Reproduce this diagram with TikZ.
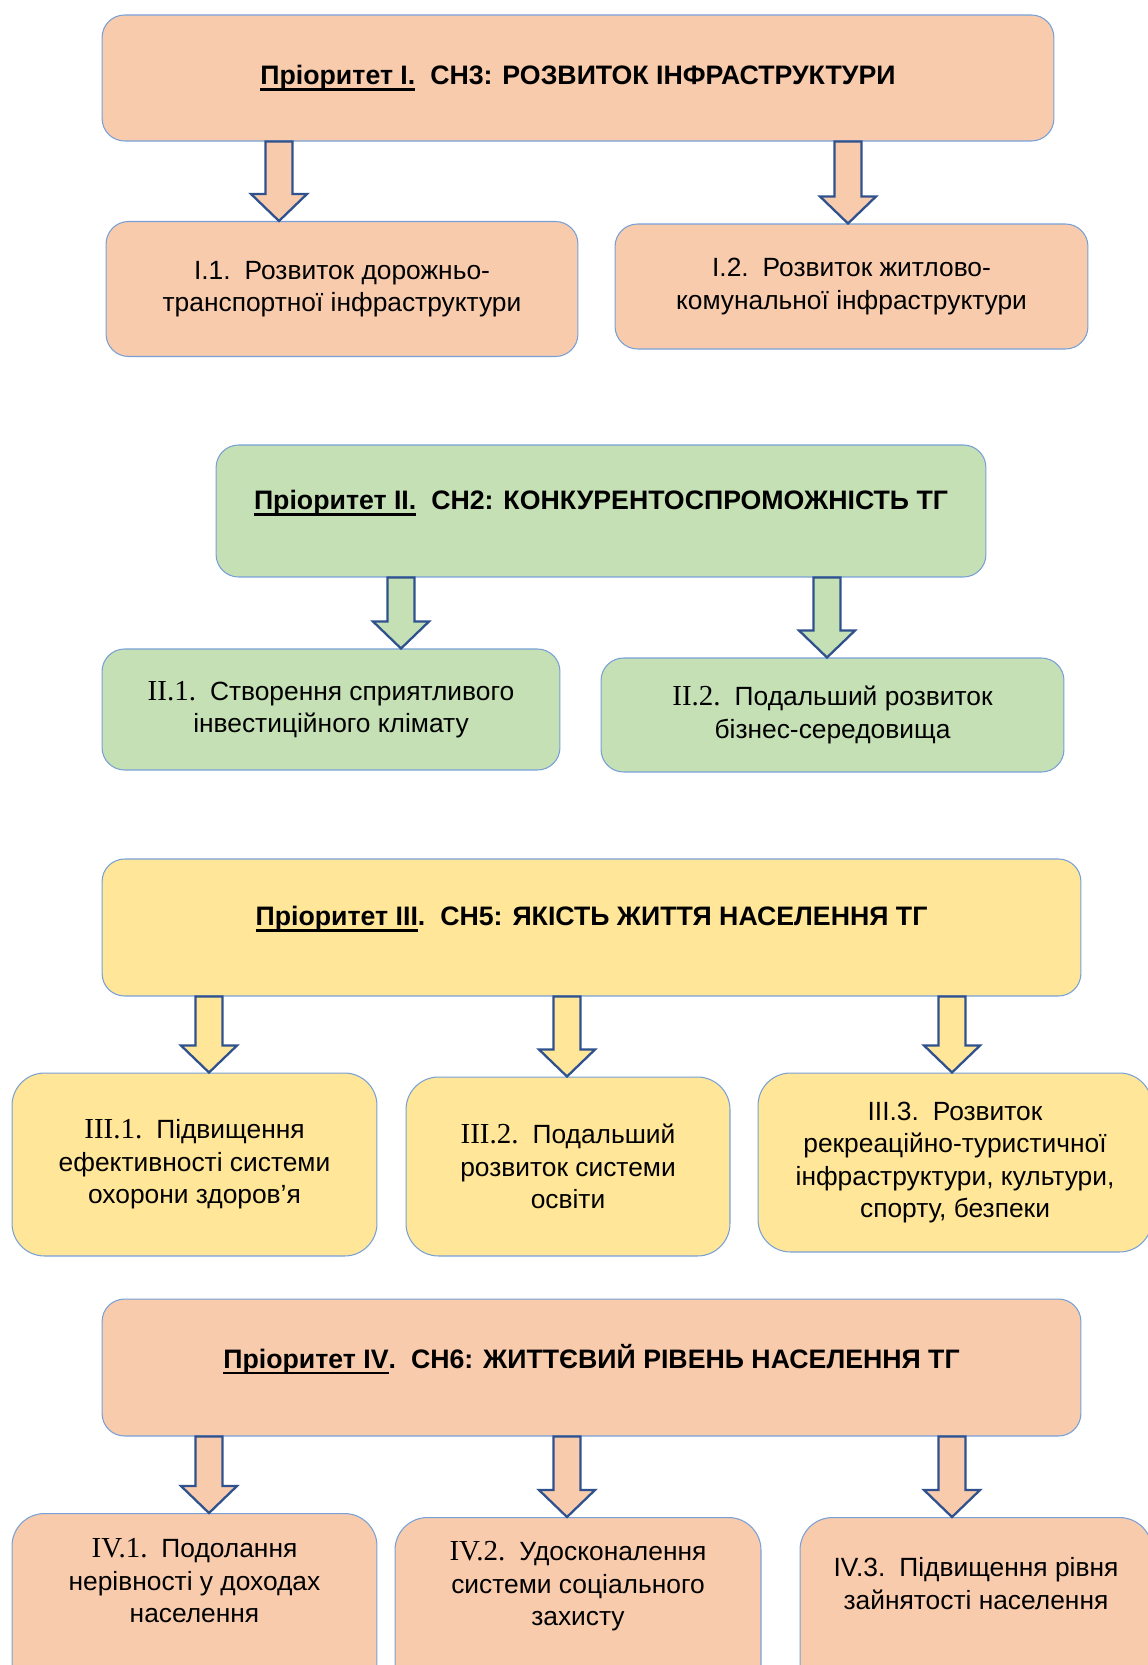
\documentclass[tikz,border=0pt]{standalone}
\usepackage{fontspec}
\setmainfont{Liberation Sans}
\newfontfamily\romfont{Liberation Serif}
\usetikzlibrary{calc}
\definecolor{peach}{RGB}{248,203,173}
\definecolor{sage}{RGB}{197,224,180}
\definecolor{sand}{RGB}{255,230,153}
\definecolor{edge}{RGB}{120,160,215}
\definecolor{navy}{RGB}{47,82,143}
\newsavebox{\undlbox}
\newcommand{\undl}[1]{\sbox{\undlbox}{#1}\rlap{\rule[-3.6pt]{\wd\undlbox}{1.5pt}}\usebox{\undlbox}}
\newcommand{\rn}[1]{{\romfont\fontsize{16.5}{18.5}\selectfont #1}}
\newcommand{\gap}{\hspace{0.28cm}}
\newcommand{\deep}{\rule[-4cm]{0pt}{0pt}}
\tikzset{
  prio/.style={rectangle, rounded corners=0.45cm, draw=edge, line width=0.6pt,
               align=center, font=\fontsize{15.2}{18}\selectfont\bfseries},
  task/.style={rectangle, rounded corners=0.45cm, draw=edge, line width=0.6pt,
               align=center, font=\fontsize{15}{18.5}\selectfont},
  tall/.style={task, rounded corners=0.65cm},
  fatarrow/.style={draw=navy, line width=1.3pt, line join=miter,
    to path={let \p1=(\tikztostart), \p2=(\tikztotarget) in
      (\x1-0.27cm,\y1) -- (\x1+0.27cm,\y1) -- (\x1+0.27cm,\y2+0.54cm)
      -- (\x1+0.56cm,\y2+0.54cm) -- (\x1,\y2) -- (\x1-0.56cm,\y2+0.54cm)
      -- (\x1-0.27cm,\y2+0.54cm) -- cycle}},
}

\begin{document}
\begin{tikzpicture}[x=0.02cm, y=-0.02cm]
  \useasboundingbox (0,0) rectangle (1147,1665);

  % priority I
  \node[prio, fill=peach, minimum width=19.04cm, minimum height=2.52cm] (p1) at (578,78)
    {\undl{Пріоритет I.}\hspace{0.3cm}СН3: РОЗВИТОК ІНФРАСТРУКТУРИ};
  \node[task, fill=peach, minimum width=9.44cm, minimum height=2.7cm] (i1) at (342,289)
    {I.1.\gap Розвиток дорожньо-\\транспортної інфраструктури};
  \node[task, fill=peach, minimum width=9.46cm, minimum height=2.5cm] (i2) at (851.5,286.5)
    {I.2.\gap Розвиток житлово-\\комунальної інфраструктури};
  \draw[fatarrow, fill=peach] (p1.south -| 279,0) to (i1.north -| 279,0);
  \draw[fatarrow, fill=peach] (p1.south -| 848,0) to (i2.north -| 848,0);

  % priority II
  \node[prio, fill=sage, text depth=0.46cm, minimum width=15.4cm, minimum height=2.64cm] (p2) at (601,511)
    {\undl{Пріоритет II.}\hspace{0.3cm}СН2: КОНКУРЕНТОСПРОМОЖНІСТЬ ТГ};
  \node[task, fill=sage, minimum width=9.16cm, minimum height=2.42cm] (ii1) at (331,709.5)
    {\rn{II.1.}\gap Створення сприятливого\\інвестиційного клімату};
  \node[task, fill=sage, minimum width=9.26cm, minimum height=2.28cm] (ii2) at (832.5,715)
    {\rn{II.2.}\gap Подальший розвиток\\бізнес-середовища};
  \draw[fatarrow, fill=sage] (p2.south -| 401,0) to (ii1.north -| 401,0);
  \draw[fatarrow, fill=sage] (p2.south -| 827,0) to (ii2.north -| 827,0);

  % priority III
  \node[prio, fill=sand, text depth=0.46cm, minimum width=19.58cm, minimum height=2.74cm] (p3) at (591.5,927.5)
    {\undl{Пріоритет III}.\hspace{0.3cm}СН5: ЯКІСТЬ ЖИТТЯ НАСЕЛЕННЯ ТГ};
  \node[tall, fill=sand, minimum width=7.3cm, minimum height=3.66cm] (iii1) at (194.5,1164.5)
    {\rn{III.1.}\gap Підвищення\\ефективності системи\\охорони здоров’я};
  \node[tall, fill=sand, minimum width=6.48cm, minimum height=3.58cm] (iii2) at (568,1166.5)
    {\rn{III.2.}\gap Подальший\\розвиток системи\\освіти};
  \node[tall, fill=sand, minimum width=7.88cm, minimum height=3.58cm] (iii3) at (955,1162.5)
    {III.3.\gap Розвиток\\рекреаційно-туристичної\\інфраструктури, культури,\\спорту, безпеки};
  \draw[fatarrow, fill=sand] (p3.south -| 209,0) to (iii1.north -| 209,0);
  \draw[fatarrow, fill=sand] (p3.south -| 567,0) to (iii2.north -| 567,0);
  \draw[fatarrow, fill=sand] (p3.south -| 952,0) to (iii3.north -| 952,0);

  % priority IV
  \node[prio, fill=peach, text depth=0.46cm, minimum width=19.58cm, minimum height=2.74cm] (p4) at (591.5,1367.5)
    {\undl{Пріоритет IV}.\hspace{0.3cm}СН6: ЖИТТЄВИЙ РІВЕНЬ НАСЕЛЕННЯ ТГ};
  \node[tall, fill=peach, anchor=north, inner ysep=0.5cm, minimum width=7.3cm] (iv1) at (194.5,1513)
    {\rn{IV.1.}\gap Подолання\\нерівності у доходах\\населення\deep};
  \node[tall, fill=peach, anchor=north, inner ysep=0.48cm, minimum width=7.32cm] (iv2) at (578,1517)
    {\rn{IV.2.}\gap Удосконалення\\системи соціального\\захисту\deep};
  \node[tall, fill=peach, anchor=north, inner ysep=0.8cm, minimum width=7.04cm] (iv3) at (976,1517)
    {IV.3.\gap Підвищення рівня\\зайнятості населення\deep};
  \draw[fatarrow, fill=peach] (p4.south -| 209,0) to (iv1.north -| 209,0);
  \draw[fatarrow, fill=peach] (p4.south -| 567,0) to (iv2.north -| 567,0);
  \draw[fatarrow, fill=peach] (p4.south -| 952,0) to (iv3.north -| 952,0);
\end{tikzpicture}
\end{document}
